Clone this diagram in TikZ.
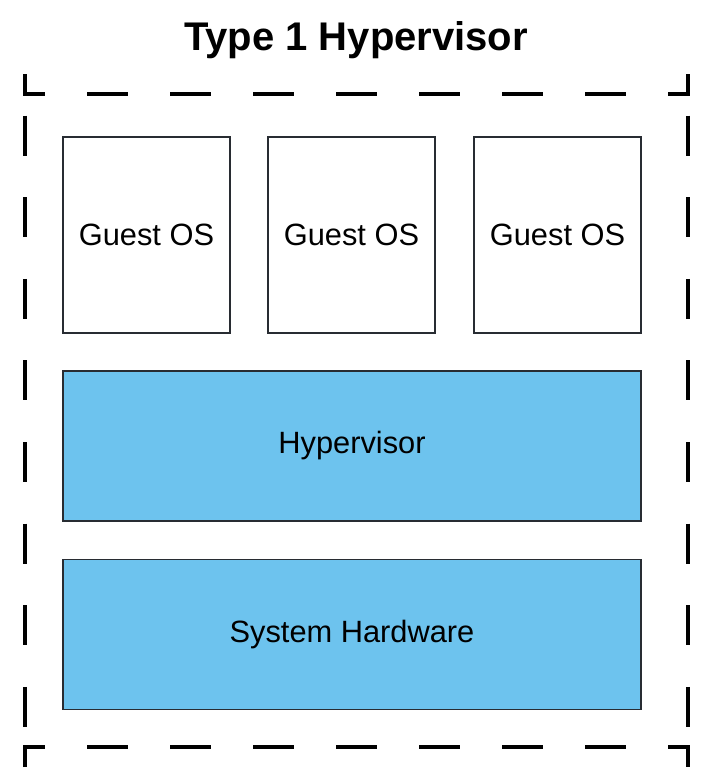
\documentclass[tikz,border=0pt]{standalone}
\usepackage{fontspec}
\setmainfont{Liberation Sans}
\definecolor{layerblue}{RGB}{109,195,238}
\definecolor{boxline}{RGB}{40,44,50}
\begin{document}
\begin{tikzpicture}[x=1pt,y=-1pt,
  box/.style={draw=boxline,line width=1.6pt,inner sep=0pt,
    font=\fontsize{30.8}{36}\selectfont},
  guest/.style={box,fill=white,minimum width=167pt,minimum height=196pt},
  layer/.style={box,fill=layerblue,minimum width=578pt,minimum height=150pt},
  frame/.style={line width=4.2pt,black},
  corner/.style={frame,line join=miter,line cap=butt},
]
\useasboundingbox (0,0) rectangle (712,771);
\node[font=\fontsize{40}{46}\selectfont\bfseries,anchor=base] (title) at (356,50) {Type 1 Hypervisor};

% dashed frame
\coordinate (tl) at (25,94);
\coordinate (tr) at (688,94);
\coordinate (bl) at (25,747);
\coordinate (br) at (688,747);
\draw[corner] ([yshift=20pt]tl) -- (tl) -- ([xshift=20pt]tl);
\draw[corner] ([xshift=-20pt]tr) -- (tr) -- ([yshift=20pt]tr);
\draw[corner] ([yshift=-20pt]bl) -- (bl) -- ([xshift=20pt]bl);
\draw[corner] ([xshift=-20pt]br) -- (br) -- ([yshift=-20pt]br);
\draw[frame,dash pattern=on 41pt off 42pt,dash phase=41pt] ([xshift=20pt]tl) -- ([xshift=-20pt]tr);
\draw[frame,dash pattern=on 41pt off 42pt,dash phase=41pt] ([xshift=20pt]bl) -- ([xshift=-20pt]br);
\draw[frame,dash pattern=on 40pt off 41.6pt,dash phase=40pt] ([yshift=20pt]tl) -- ([yshift=-20pt]bl);
\draw[frame,dash pattern=on 40pt off 41.6pt,dash phase=40pt] ([yshift=20pt]tr) -- ([yshift=-20pt]br);

% guest OS boxes
\node[guest] (g1) at (146.5,235) {Guest OS};
\node[guest] (g2) at (351.5,235) {Guest OS};
\node[guest] (g3) at (557.5,235) {Guest OS};

% layers
\node[layer] (hyp) at (352,446) {Hypervisor};
\node[layer] (hw) at (352,634.5) {System Hardware};
\end{tikzpicture}
\end{document}
